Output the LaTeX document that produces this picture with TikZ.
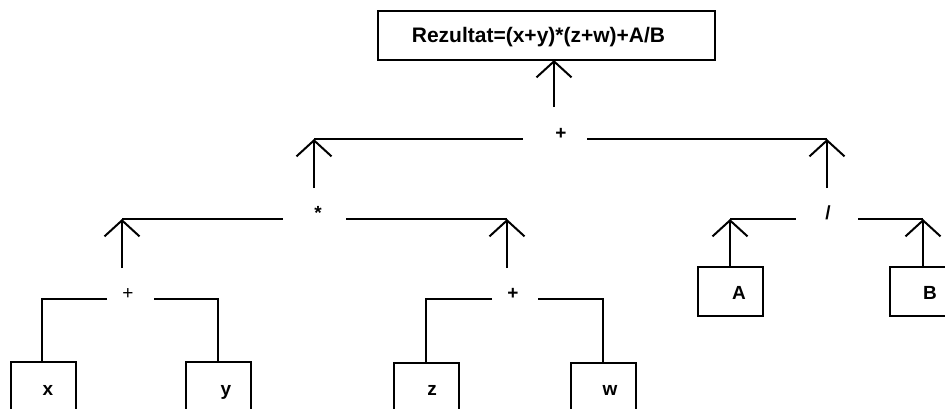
\documentclass[tikz,border=0pt]{standalone}
\usepackage{fontspec}
\setmainfont{Liberation Sans}
\usetikzlibrary{arrows.meta}
\begin{document}
\begin{tikzpicture}[x=1pt,y=-1pt,line width=2pt,
  box/.style={draw,rectangle,inner sep=0pt,minimum width=65pt,minimum height=49pt},
  lbl/.style={anchor=base,inner sep=0pt,font=\fontsize{19}{19}\selectfont\bfseries},
  opr/.style={anchor=base,inner sep=0pt,font=\fontsize{19}{19}\selectfont\bfseries},
  oprthin/.style={anchor=base,inner sep=0pt,font=\fontsize{19}{19}\selectfont},
  up/.style={-{Straight Barb[length=16pt,width=35pt,line width=2pt]}},
  wire/.style={line cap=butt}]
\useasboundingbox (0,0) rectangle (945,408);
\clip (0,0) rectangle (945,408);

% result box
\node[draw,rectangle,inner sep=0pt,minimum width=337pt,minimum height=49pt] (res) at (546.5,35.5) {};
\node[anchor=base,inner sep=0pt,font=\fontsize{21}{21}\selectfont\bfseries] (restxt) at (538.5,42) {Rezultat=(x+y)*(z+w)+A/B};
\coordinate (resin) at (554,60);
\coordinate (resfoot) at (554,107);
\draw[up] (resfoot) -- (resin);

% level 1: +
\node[opr] (op1) at (561,139) {+};
\coordinate (op1l) at (523,139);
\coordinate (op1r) at (587,139);
\coordinate (c1l) at (314,139);
\coordinate (c1r) at (827,139);
\draw[wire] (c1l) -- (op1l);
\draw[wire] (op1r) -- (c1r);
\coordinate (f1l) at (314,188);
\coordinate (f1r) at (827,188);
\draw[up] (f1l) -- (c1l);
\draw[up] (f1r) -- (c1r);

% level 2: *
\node[opr] (op2) at (318,219) {*};
\coordinate (op2l) at (283,219);
\coordinate (op2r) at (346,219);
\coordinate (c2l) at (122,219);
\coordinate (c2r) at (507,219);
\draw[wire] (c2l) -- (op2l);
\draw[wire] (op2r) -- (c2r);
\coordinate (f2l) at (122,268);
\coordinate (f2r) at (507,268);
\draw[up] (f2l) -- (c2l);
\draw[up] (f2r) -- (c2r);

% level 2: /
\node[opr] (op3) at (828,219) {/};
\coordinate (op3l) at (796,219);
\coordinate (op3r) at (858,219);
\coordinate (c3l) at (730,219);
\coordinate (c3r) at (923,219);
\draw[wire] (c3l) -- (op3l);
\draw[wire] (op3r) -- (c3r);
\node[box] (bA) at (730.5,291) {};
\node[box] (bB) at (922.5,291) {};
\node[lbl] (lA) at (739,299) {A};
\node[lbl] (lB) at (930,299) {B};
\draw[up] (bA.north -| c3l) -- (c3l);
\draw[up] (bB.north -| c3r) -- (c3r);

% level 3: x + y
\node[oprthin] (op4) at (128,299) {+};
\coordinate (op4l) at (107,299);
\coordinate (op4r) at (154,299);
\coordinate (c4l) at (42,299);
\coordinate (c4r) at (218,299);
\node[box] (bx) at (43.5,386.5) {};
\node[box] (by) at (218.5,386.5) {};
\node[lbl] (lx) at (48,395) {x};
\node[lbl] (ly) at (226,395) {y};
\draw[line join=miter] (op4l) -- (c4l) -- (bx.north -| c4l);
\draw[line join=miter] (op4r) -- (c4r) -- (by.north -| c4r);

% level 3: z + w
\node[opr] (op5) at (513,299) {+};
\coordinate (op5l) at (492,299);
\coordinate (op5r) at (538,299);
\coordinate (c5l) at (426,299);
\coordinate (c5r) at (603,299);
\node[box] (bz) at (426.5,387) {};
\node[box] (bw) at (603,387) {};
\node[lbl] (lz) at (432,395) {z};
\node[lbl] (lw) at (610,395) {w};
\draw[line join=miter] (op5l) -- (c5l) -- (bz.north -| c5l);
\draw[line join=miter] (op5r) -- (c5r) -- (bw.north -| c5r);
\end{tikzpicture}
\end{document}
